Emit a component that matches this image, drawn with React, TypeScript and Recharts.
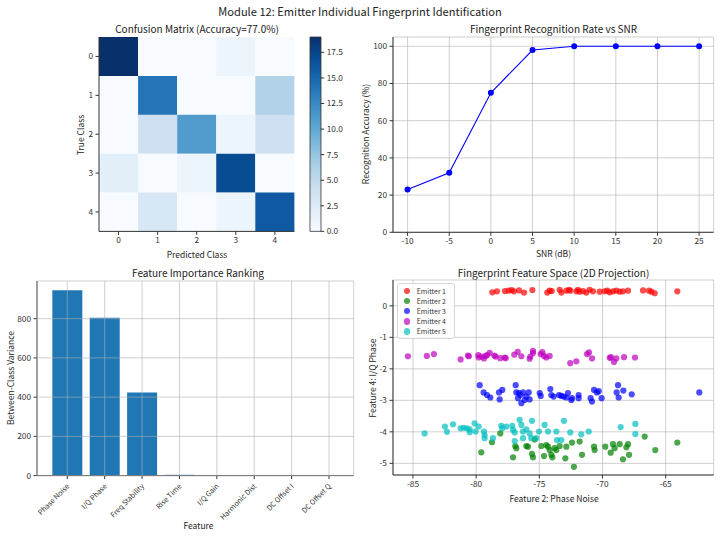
import React from "react";
import {
  Bar,
  BarChart,
  CartesianGrid,
  Cell,
  Legend,
  Line,
  LineChart,
  Scatter,
  ScatterChart,
  XAxis,
  YAxis,
} from "recharts";

const FONT = '"Noto Sans CJK SC", "Noto Sans", sans-serif';
const INK = "#333333";
const GRID = "#b0b0b0";

// --- confusion matrix (rows = true class, cols = predicted class)
const classLabels = ["0", "1", "2", "3", "4"];
const confusion = [
  [19, 0, 0, 1, 0],
  [0, 14, 0, 0, 6],
  [0, 4, 11, 1, 4],
  [2, 0, 1, 17, 0],
  [0, 3, 0, 1, 16],
];
const colorbarTicks = [0, 2.5, 5, 7.5, 10, 12.5, 15, 17.5];

// --- recognition rate vs SNR
const snrLevels = [-10, -5, 0, 5, 10, 15, 20, 25];
const accuracy = [23, 32, 75, 98, 100, 100, 100, 100];

// --- feature importance
const featureNames = [
  "Phase Noise",
  "I/Q Phase",
  "Freq Stability",
  "Rise Time",
  "I/Q Gain",
  "Harmonic Dist",
  "DC Offset I",
  "DC Offset Q",
];
const featureVariance = [945, 805, 424, 4, 0.8, 0.3, 0.2, 0.1];

// --- feature space, [phase noise, i/q phase]
const emitter1 = [
  [-78.72, 0.43], [-78.35, 0.46], [-77.72, 0.47], [-77.43, 0.48], [-77.19, 0.5],
  [-77.01, 0.46], [-76.61, 0.49], [-76.21, 0.42], [-75.55, 0.5], [-74.37, 0.42],
  [-74.18, 0.48], [-74.02, 0.47], [-73.39, 0.51], [-73.26, 0.42], [-72.86, 0.48],
  [-72.65, 0.51], [-72.55, 0.48], [-72.07, 0.46], [-71.94, 0.51], [-71.81, 0.45],
  [-71.54, 0.47], [-71.28, 0.42], [-71.02, 0.51], [-70.75, 0.46], [-70.22, 0.45],
  [-69.83, 0.46], [-69.62, 0.48], [-69.43, 0.43], [-69.17, 0.46], [-68.91, 0.48],
  [-68.64, 0.45], [-68.38, 0.46], [-67.98, 0.48], [-66.79, 0.49], [-66.32, 0.48],
  [-66.13, 0.45], [-65.87, 0.4], [-64.08, 0.46],
];
const emitter2 = [
  [-79.59, -4.65], [-78.75, -4.33], [-78.09, -4.05], [-77.08, -4.81], [-76.9, -4.45],
  [-76.82, -4.52], [-76.03, -4.45], [-75.9, -4.47], [-75.58, -4.7], [-75.5, -4.81],
  [-75.37, -4.24], [-74.84, -4.45], [-74.63, -4.77], [-74.45, -4.42], [-74.31, -4.47],
  [-74.18, -4.58], [-74.05, -4.73], [-73.97, -4.81], [-73.79, -4.52], [-73.65, -4.58],
  [-73.39, -4.45], [-72.94, -4.84], [-72.86, -4.47], [-72.41, -4.34], [-72.26, -5.11],
  [-71.81, -4.31], [-71.62, -4.73], [-70.67, -4.47], [-70.62, -4.58], [-69.78, -4.47],
  [-69.35, -4.66], [-69.17, -4.39], [-69.04, -4.52], [-68.64, -4.39], [-68.38, -4.87],
  [-68.11, -4.49], [-67.98, -4.39], [-67.9, -4.73], [-66.66, -4.15], [-65.82, -4.58],
  [-64.08, -4.34],
];
const emitter3 = [
  [-79.72, -2.52], [-79.41, -2.75], [-79.14, -2.83], [-78.88, -2.91], [-78.19, -2.75],
  [-77.93, -2.67], [-78.14, -2.97], [-76.87, -2.52], [-76.82, -2.75], [-76.61, -2.77],
  [-76.69, -2.93], [-76.5, -2.83], [-76.42, -3.09], [-76.29, -2.75], [-76.16, -2.99],
  [-76.03, -2.88], [-75.84, -2.75], [-75.77, -2.97], [-74.97, -2.77], [-74.89, -2.86],
  [-74.13, -2.64], [-74.05, -2.83], [-73.87, -2.88], [-73.44, -2.83], [-73.26, -2.86],
  [-73.07, -2.88], [-72.86, -2.91], [-72.73, -2.77], [-72.47, -2.99], [-72.41, -2.93],
  [-71.89, -2.83], [-71.89, -2.93], [-70.94, -2.93], [-70.83, -3.04], [-70.67, -2.67],
  [-70.44, -2.75], [-70.3, -2.71], [-70.07, -2.93], [-68.88, -2.75], [-68.77, -2.52],
  [-68.72, -2.91], [-68.35, -2.69], [-67.69, -2.81], [-62.34, -2.75],
];
const emitter4 = [
  [-85.4, -1.6], [-83.9, -1.59], [-83.34, -1.53], [-81.23, -1.7], [-80.65, -1.58],
  [-80.57, -1.6], [-79.83, -1.56], [-79.8, -1.64], [-79.56, -1.61], [-79.38, -1.67],
  [-79.25, -1.59], [-79.12, -1.56], [-78.93, -1.49], [-78.56, -1.58], [-78.46, -1.61],
  [-78.09, -1.66], [-77.74, -1.64], [-77.66, -1.66], [-76.98, -1.55], [-76.71, -1.46],
  [-76.42, -1.6], [-75.77, -1.68], [-75.71, -1.61], [-75.5, -1.43], [-75.5, -1.5],
  [-74.9, -1.53], [-74.76, -1.47], [-74.63, -1.59], [-74.45, -1.64], [-74.18, -1.59],
  [-72.55, -1.82], [-72.07, -1.76], [-71.23, -1.53], [-71.07, -1.48], [-70.83, -1.67],
  [-69.43, -1.65], [-69.33, -1.63], [-69.09, -1.78], [-68.91, -1.67], [-68.3, -1.63],
  [-67.43, -1.64],
];
const emitter5 = [
  [-84.08, -4.05], [-82.47, -3.83], [-82.31, -4.0], [-81.83, -3.76], [-81.23, -3.89],
  [-80.99, -3.87], [-80.73, -3.89], [-80.51, -3.92], [-80.51, -4.01], [-80.12, -3.73],
  [-80.04, -3.99], [-79.8, -3.83], [-79.38, -3.99], [-79.33, -4.1], [-79.33, -4.2],
  [-78.67, -4.2], [-78.01, -3.81], [-77.93, -3.89], [-77.61, -3.83], [-77.14, -3.81],
  [-77.08, -3.94], [-76.95, -4.02], [-76.95, -4.29], [-76.56, -3.62], [-76.42, -3.78],
  [-76.29, -3.99], [-76.29, -4.2], [-76.03, -3.92], [-75.77, -4.05], [-75.63, -4.2],
  [-75.58, -3.65], [-75.24, -4.2], [-75.03, -3.99], [-74.58, -3.78], [-74.31, -3.99],
  [-73.65, -3.99], [-73.6, -4.26], [-73.26, -4.26], [-73.05, -3.65], [-72.55, -4.02],
  [-71.68, -4.08], [-71.09, -3.99], [-68.56, -3.85], [-67.4, -3.75], [-67.4, -4.07],
];
const emitterNames = ["Emitter 1", "Emitter 2", "Emitter 3", "Emitter 4", "Emitter 5"];
const emitterColors = ["#ff0000", "#008000", "#0000ff", "#bf00bf", "#00bfbf"];

// matplotlib "Blues"
const BLUES = ["#f7fbff", "#deebf7", "#c6dbef", "#9ecae1", "#6baed6", "#4292c6", "#2171b5", "#08519c", "#08306b"];

function blues(t: number) {
  const s = Math.max(0, Math.min(1, t)) * 8;
  const i = Math.min(7, Math.floor(s));
  const f = s - i;
  const a = parseInt(BLUES[i].slice(1), 16);
  const b = parseInt(BLUES[i + 1].slice(1), 16);
  const ch = (shift: number) => {
    const ca = (a >> shift) & 255;
    const cb = (b >> shift) & 255;
    return Math.round(ca + (cb - ca) * f);
  };
  return `rgb(${ch(16)},${ch(8)},${ch(0)})`;
}

type Rect = { x: number; y: number; w: number; h: number };
type Pad = { l: number; r: number; t: number; b: number };

const tickStyle = { fill: INK, fontSize: 8.3 };
const axisBase = { stroke: INK, tick: tickStyle, tickSize: 3.5, tickMargin: 2.5 };

function Box({ plot, pad, children }: { plot: Rect; pad: Pad; children: React.ReactNode }) {
  return (
    <div style={{ position: "absolute", left: plot.x - pad.l, top: plot.y - pad.t }}>{children}</div>
  );
}

function Title({ x, y, size = 10, children }: { x: number; y: number; size?: number; children: React.ReactNode }) {
  return (
    <div
      style={{
        position: "absolute",
        left: x,
        top: y,
        transform: "translate(-50%, -50%)",
        whiteSpace: "nowrap",
        fontSize: size,
        lineHeight: 1.2,
        color: "#222",
      }}
    >
      {children}
    </div>
  );
}

function VLabel({ x, y, children }: { x: number; y: number; children: React.ReactNode }) {
  return (
    <div
      style={{
        position: "absolute",
        left: x,
        top: y,
        transform: "translate(-50%, -50%) rotate(-90deg)",
        whiteSpace: "nowrap",
        fontSize: 8.5,
        lineHeight: 1.2,
        color: "#222",
      }}
    >
      {children}
    </div>
  );
}

function ConfusionPanel() {
  const plot = { x: 99.3, y: 37.3, w: 195.4, h: 194.4 };
  const pad = { l: 40, r: 4, t: 4, b: 20 };
  const vmax = Math.max(...confusion.flat());
  const rows = classLabels.map((label) => {
    const row: Record<string, string | number> = { trueClass: label };
    classLabels.forEach((_, j) => (row["p" + j] = 1));
    return row;
  });
  return (
    <Box plot={plot} pad={pad}>
      <BarChart
        width={plot.w + pad.l + pad.r}
        height={plot.h + pad.t + pad.b}
        data={rows}
        layout="vertical"
        barCategoryGap={0}
        margin={{ top: pad.t, right: pad.r, left: 0, bottom: 0 }}
      >
        <XAxis
          {...axisBase}
          type="number"
          domain={[0, classLabels.length]}
          ticks={classLabels.map((_, i) => i + 0.5)}
          tickFormatter={(v: number) => classLabels[Math.floor(v)]}
          interval={0}
          height={pad.b}
        />
        <YAxis {...axisBase} type="category" dataKey="trueClass" width={pad.l} />
        <XAxis xAxisId="top" orientation="top" type="number" domain={[0, 5]} height={0} tick={false} tickLine={false} stroke={INK} />
        <YAxis yAxisId="right" orientation="right" type="category" dataKey="trueClass" width={0} tick={false} tickLine={false} stroke={INK} />
        {classLabels.map((_, j) => (
          <Bar key={j} dataKey={"p" + j} stackId="cm" isAnimationActive={false}>
            {confusion.map((r, i) => (
              <Cell key={i} fill={blues(r[j] / vmax)} />
            ))}
          </Bar>
        ))}
      </BarChart>
    </Box>
  );
}

function ColorbarPanel() {
  const plot = { x: 310, y: 37.3, w: 10.7, h: 194.4 };
  const pad = { l: 2, r: 30, t: 6, b: 8 };
  const vmax = Math.max(...confusion.flat());
  return (
    <Box plot={plot} pad={pad}>
      <BarChart
        width={plot.w + pad.l + pad.r}
        height={plot.h + pad.t + pad.b}
        data={[{ k: "cb", vmax }]}
        barCategoryGap={0}
        margin={{ top: pad.t, right: 0, left: pad.l, bottom: pad.b }}
      >
        <defs>
          <linearGradient id="cbGrad" x1="0" y1="1" x2="0" y2="0">
            {BLUES.map((c, i) => (
              <stop key={i} offset={i / 8} stopColor={c} />
            ))}
          </linearGradient>
        </defs>
        <XAxis dataKey="k" hide />
        <YAxis
          {...axisBase}
          orientation="right"
          domain={[0, vmax]}
          ticks={colorbarTicks}
          interval={0}
          tickFormatter={(v: number) => v.toFixed(1)}
          width={pad.r}
          axisLine={false}
        />
        <Bar dataKey="vmax" fill="url(#cbGrad)" stroke={INK} strokeWidth={0.8} isAnimationActive={false} />
      </BarChart>
    </Box>
  );
}

function SnrPanel() {
  const plot = { x: 393.3, y: 36.7, w: 320.7, h: 195.3 };
  const pad = { l: 32, r: 4, t: 4, b: 18 };
  const data = snrLevels.map((snr, i) => ({ snr, acc: accuracy[i] }));
  const xDomain = [-11.75, 26.75];
  return (
    <Box plot={plot} pad={pad}>
      <LineChart
        width={plot.w + pad.l + pad.r}
        height={plot.h + pad.t + pad.b}
        data={data}
        margin={{ top: pad.t, right: pad.r, left: 0, bottom: 0 }}
      >
        <CartesianGrid stroke={GRID} strokeOpacity={0.6} />
        <XAxis {...axisBase} type="number" dataKey="snr" domain={xDomain} ticks={snrLevels} interval={0} height={pad.b} />
        <YAxis {...axisBase} type="number" domain={[0, 105]} ticks={[0, 20, 40, 60, 80, 100]} interval={0} width={pad.l} />
        <XAxis xAxisId="top" orientation="top" type="number" dataKey="snr" domain={xDomain} height={0} tick={false} tickLine={false} stroke={INK} />
        <YAxis yAxisId="right" orientation="right" type="number" domain={[0, 105]} width={0} tick={false} tickLine={false} stroke={INK} />
        <Line
          dataKey="acc"
          stroke="#0000ff"
          strokeWidth={1.1}
          dot={{ r: 3, fill: "#0000ff", stroke: "#0000ff", strokeWidth: 0 }}
          activeDot={false}
          isAnimationActive={false}
        />
      </LineChart>
    </Box>
  );
}

function RotatedTick({ x, y, payload }: any) {
  const ax = x + 0.5;
  const ay = y + 3;
  return (
    <text
      x={ax}
      y={ay}
      transform={`rotate(-45 ${ax} ${ay})`}
      textAnchor="end"
      dominantBaseline="central"
      fontSize={7.2}
      fill={INK}
    >
      {payload.value}
    </text>
  );
}

function FeaturePanel() {
  const plot = { x: 37.3, y: 280.7, w: 316.7, h: 194.6 };
  const pad = { l: 37, r: 4, t: 4, b: 58 };
  const data = featureNames.map((name, i) => ({ name, variance: featureVariance[i] }));
  return (
    <Box plot={plot} pad={pad}>
      <BarChart
        width={plot.w + pad.l + pad.r}
        height={plot.h + pad.t + pad.b}
        data={data}
        barCategoryGap="10%"
        margin={{ top: pad.t, right: pad.r, left: 0, bottom: 0 }}
      >
        <XAxis
          {...axisBase}
          dataKey="name"
          interval={0}
          padding={{ left: 11.6, right: 6 }}
          tick={<RotatedTick />}
          height={pad.b}
        />
        <YAxis {...axisBase} type="number" domain={[0, 992]} ticks={[0, 200, 400, 600, 800]} interval={0} width={pad.l} />
        <XAxis xAxisId="top" orientation="top" dataKey="name" height={0} tick={false} tickLine={false} stroke={INK} />
        <YAxis yAxisId="right" orientation="right" type="number" domain={[0, 992]} width={0} tick={false} tickLine={false} stroke={INK} />
        <Bar dataKey="variance" fill="#1f77b4" isAnimationActive={false} />
        <CartesianGrid stroke={GRID} strokeOpacity={0.6} zIndex={600} />
      </BarChart>
    </Box>
  );
}

function ScatterLegend({ payload }: any) {
  return (
    <div
      style={{
        border: "1px solid #d6d6d6",
        borderRadius: 3,
        background: "rgba(255,255,255,0.85)",
        padding: "2px 8px 2px 6px",
        fontSize: 6.9,
        lineHeight: "10.1px",
        color: INK,
      }}
    >
      {(payload || []).map((e: any) => (
        <div key={e.value} style={{ display: "flex", alignItems: "center" }}>
          <span
            style={{
              display: "inline-block",
              width: 6.5,
              height: 6.5,
              borderRadius: "50%",
              background: e.color,
              opacity: 0.7,
              marginRight: 6.5,
            }}
          />
          {e.value}
        </div>
      ))}
    </div>
  );
}

function FeatureSpacePanel() {
  const plot = { x: 393.3, y: 280, w: 320.7, h: 195 };
  const pad = { l: 32, r: 4, t: 4, b: 18 };
  const xDomain = [-86.58, -61.2];
  const yDomain = [-5.37, 0.82];
  const groups = [emitter1, emitter2, emitter3, emitter4, emitter5];
  return (
    <Box plot={plot} pad={pad}>
      <ScatterChart
        width={plot.w + pad.l + pad.r}
        height={plot.h + pad.t + pad.b}
        margin={{ top: pad.t, right: pad.r, left: 0, bottom: 0 }}
      >
        <CartesianGrid stroke={GRID} strokeOpacity={0.6} />
        <XAxis {...axisBase} type="number" dataKey="x" domain={xDomain} ticks={[-85, -80, -75, -70, -65]} interval={0} height={pad.b} />
        <YAxis {...axisBase} type="number" dataKey="y" domain={yDomain} ticks={[-5, -4, -3, -2, -1, 0]} interval={0} width={pad.l} />
        <XAxis xAxisId="top" orientation="top" type="number" dataKey="x" domain={xDomain} height={0} tick={false} tickLine={false} stroke={INK} />
        <YAxis yAxisId="right" orientation="right" type="number" dataKey="y" domain={yDomain} width={0} tick={false} tickLine={false} stroke={INK} />
        {groups.map((pts, g) => (
          <Scatter
            key={g}
            name={emitterNames[g]}
            data={pts.map(([x, y]) => ({ x, y }))}
            fill={emitterColors[g]}
            isAnimationActive={false}
            shape={(p: any) => <circle cx={p.cx} cy={p.cy} r={3.1} fill={emitterColors[g]} fillOpacity={0.7} />}
          />
        ))}
        <Legend
          layout="vertical"
          align="center"
          verticalAlign="middle"
          content={<ScatterLegend />}
          wrapperStyle={{ left: pad.l + 3.5, top: pad.t + 3, width: "auto" }}
        />
      </ScatterChart>
    </Box>
  );
}

export default function App() {
  return (
    <div
      style={{
        position: "absolute",
        left: 0,
        top: 0,
        width: 720,
        height: 537,
        overflow: "hidden",
        background: "#fff",
        fontFamily: FONT,
      }}
    >
      <Title x={360} y={11.5} size={11.1}>
        Module 12: Emitter Individual Fingerprint Identification
      </Title>

      <Title x={197} y={29}>Confusion Matrix (Accuracy=77.0%)</Title>
      <ConfusionPanel />
      <ColorbarPanel />
      <Title x={197} y={254} size={8.5}>Predicted Class</Title>
      <VLabel x={80} y={135}>True Class</VLabel>

      <Title x={553.5} y={29}>Fingerprint Recognition Rate vs SNR</Title>
      <SnrPanel />
      <Title x={553.5} y={252.5} size={8.5}>SNR (dB)</Title>
      <VLabel x={365} y={134}>Recognition Accuracy (%)</VLabel>

      <Title x={198} y={272.5}>Feature Importance Ranking</Title>
      <FeaturePanel />
      <Title x={198.5} y={525} size={8.5}>Feature</Title>
      <VLabel x={9.5} y={378}>Between-Class Variance</VLabel>

      <Title x={553.5} y={272.5}>Fingerprint Feature Space (2D Projection)</Title>
      <FeatureSpacePanel />
      <Title x={554} y={498} size={8.5}>Feature 2: Phase Noise</Title>
      <VLabel x={372} y={378}>Feature 4: I/Q Phase</VLabel>
    </div>
  );
}
